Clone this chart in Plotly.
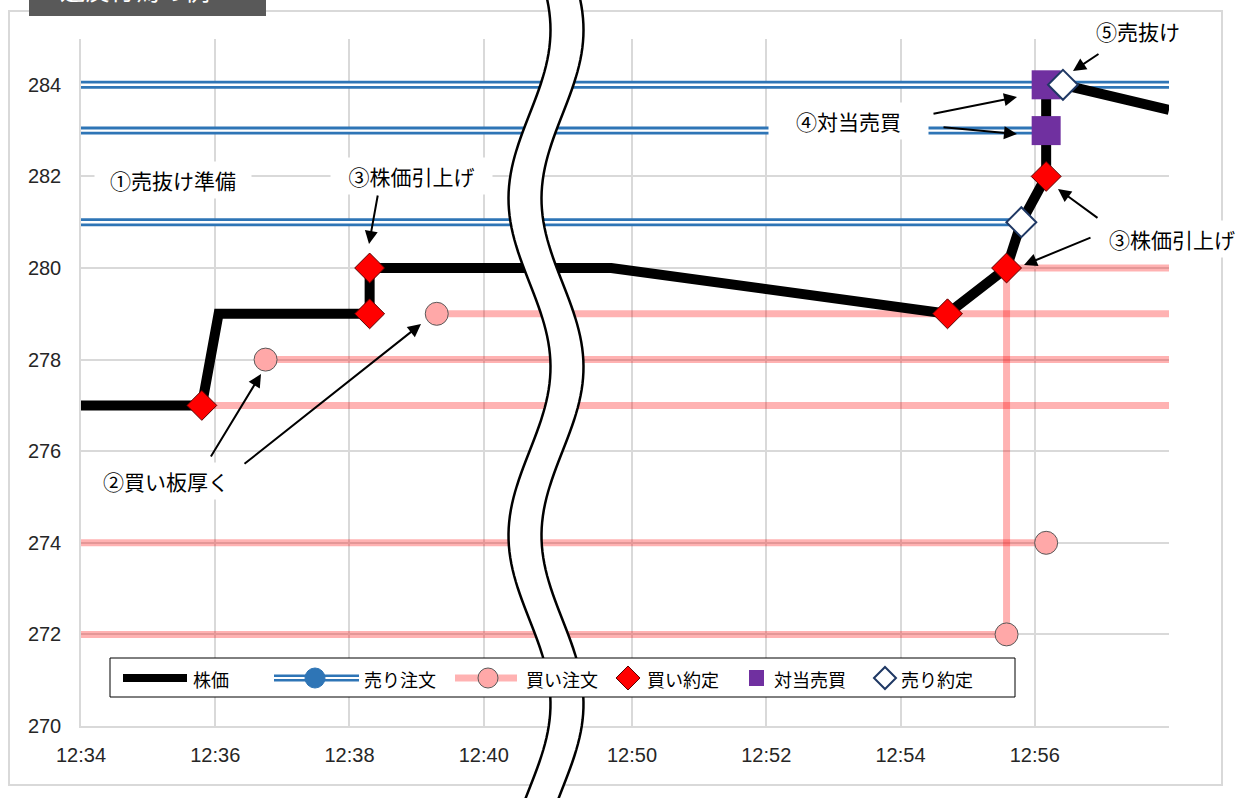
import numpy as np
import plotly.graph_objects as go

# ---------------- data (times = minutes past 12:00) ----------------
tick_minutes = [34, 36, 38, 40, 50, 52, 54, 56]
tick_labels = ["12:34", "12:36", "12:38", "12:40", "12:50", "12:52", "12:54", "12:56"]
y_ticks = [270, 272, 274, 276, 278, 280, 282, 284]

# 株価 (stock price path)
price_t = [34.0, 35.8, 36.05, 38.3, 38.3, 48.6, 54.7, 55.58, 55.8, 56.17, 56.17, 56.17, 56.42, 58.0]
price_y = [277, 277, 279, 279, 280, 280, 279, 280, 281, 282, 283, 284, 284, 283.45]

# 売り注文 (sell orders): price, start, end
sell_price = [284, 283, 281]
sell_start = [34.0, 34.0, 34.0]
sell_end = [58.0, 56.17, 55.8]

# 買い注文 (buy orders)
buy277_t, buy277_y = [34.0, 58.0], [277, 277]
buy278_t, buy278_y = [36.75, 58.0], [278, 278]
buy279_t, buy279_y = [39.3, 58.0], [279, 279]
buy274_t, buy274_y = [34.0, 56.17], [274, 274]
buy272_t, buy272_y = [34.0, 55.58, 55.58, 58.0], [272, 272, 280, 280]
buy_mark_t = [36.75, 39.3, 56.17, 55.58]
buy_mark_y = [278, 279, 274, 272]

# 買い約定 / 対当売買 / 売り約定
buyexec_t = [35.8, 38.3, 38.3, 54.7, 55.58, 56.17]
buyexec_y = [277, 279, 280, 279, 280, 282]
matched_t = [56.17, 56.17]
matched_y = [283, 284]
sellexec_t = [55.8, 56.42]
sellexec_y = [281, 284]

# ---------------- broken time axis ----------------
GAP = 2.209  # width (in minutes of normal scale) of the 12:40-12:50 break


def xpos(t):
    out = []
    for v in np.atleast_1d(t):
        if v <= 40:
            out.append(v - 34)
        elif v <= 50:
            out.append(6 + (v - 40) * GAP / 10.0)
        else:
            out.append(6 + GAP + (v - 50))
    return out


XMAX = xpos([58])[0]

# ---------------- layout geometry (pixels) ----------------
W, H = 1242, 798
ML, MR, MT, MB = 81, W - 1169, 39, H - 726
PW, PH = W - ML - MR, H - MT - MB


def PX(x):
    return (x - ML) / PW


def PY(y):
    return (H - MB - y) / PH


fig = go.Figure()

BLUE = "#2E75B6"
PINK = "rgba(255,0,0,0.30)"
PINKFILL = "#FFA8A8"

# sell orders (double blue lines)
for p, s, e in zip(sell_price, sell_start, sell_end):
    fig.add_trace(go.Scatter(x=xpos([s, e]), y=[p, p], mode="lines",
                             line=dict(color=BLUE, width=8), showlegend=False, hoverinfo="skip"))
    fig.add_trace(go.Scatter(x=xpos([s, e]), y=[p, p], mode="lines",
                             line=dict(color="white", width=2.4), showlegend=False, hoverinfo="skip"))

# buy orders (pink lines)
for tt, yy in [(buy277_t, buy277_y), (buy278_t, buy278_y), (buy279_t, buy279_y),
               (buy274_t, buy274_y), (buy272_t, buy272_y)]:
    fig.add_trace(go.Scatter(x=xpos(tt), y=yy, mode="lines",
                             line=dict(color=PINK, width=7), showlegend=False, hoverinfo="skip"))
fig.add_trace(go.Scatter(x=xpos(buy_mark_t), y=buy_mark_y, mode="markers",
                         marker=dict(symbol="circle", size=23, color=PINKFILL,
                                     line=dict(color="#595959", width=1)),
                         showlegend=False, name="買い注文"))

# stock price
fig.add_trace(go.Scatter(x=xpos(price_t), y=price_y, mode="lines",
                         line=dict(color="black", width=10), showlegend=False, name="株価"))

# executions
fig.add_trace(go.Scatter(x=xpos(buyexec_t), y=buyexec_y, mode="markers",
                         marker=dict(symbol="diamond", size=23, color="#FF0000",
                                     line=dict(color="#5a0000", width=1)),
                         showlegend=False, name="買い約定"))
fig.add_trace(go.Scatter(x=xpos(matched_t), y=matched_y, mode="markers",
                         marker=dict(symbol="square", size=29, color="#7030A0",
                                     line=dict(color="#7030A0", width=0)),
                         showlegend=False, name="対当売買"))
fig.add_trace(go.Scatter(x=xpos(sellexec_t), y=sellexec_y, mode="markers",
                         marker=dict(symbol="diamond", size=23, color="white",
                                     line=dict(color="#1F3864", width=2)),
                         showlegend=False, name="売り約定"))

shapes = []
# outer chart frame
shapes.append(dict(type="rect", xref="paper", yref="paper", layer="below",
                   x0=PX(9), x1=PX(1222), y0=PY(785), y1=PY(11),
                   line=dict(color="#D9D9D9", width=2), fillcolor="rgba(0,0,0,0)"))
# title box
shapes.append(dict(type="rect", xref="paper", yref="paper", layer="above",
                   x0=PX(29), x1=PX(266), y0=PY(16), y1=PY(-5),
                   line=dict(width=0), fillcolor="#595959"))

# wavy break band
ys = np.arange(-12, 812, 6)
cx = 546 + 21 * np.cos(2 * np.pi * (ys - 30) / 337.0)
hw = 16.5
left = [(PX(c - hw), PY(y)) for c, y in zip(cx, ys)]
right = [(PX(c + hw), PY(y)) for c, y in zip(cx[::-1], ys[::-1])]
pts = left + right
path = "M " + " L ".join(f"{a:.5f},{b:.5f}" for a, b in pts) + " Z"
shapes.append(dict(type="path", xref="paper", yref="paper", layer="above", path=path,
                   fillcolor="white", line=dict(color="black", width=2.5)))

# ---- custom legend (drawn above the break) ----
LY = 678
shapes.append(dict(type="rect", xref="paper", yref="paper", layer="above",
                   x0=PX(110), x1=PX(1015), y0=PY(697), y1=PY(658),
                   fillcolor="white", line=dict(color="black", width=1)))
shapes.append(dict(type="line", xref="paper", yref="paper", layer="above",
                   x0=PX(123), x1=PX(187), y0=PY(LY), y1=PY(LY), line=dict(color="black", width=8)))
shapes.append(dict(type="line", xref="paper", yref="paper", layer="above",
                   x0=PX(274), x1=PX(359), y0=PY(LY), y1=PY(LY), line=dict(color=BLUE, width=7)))
shapes.append(dict(type="line", xref="paper", yref="paper", layer="above",
                   x0=PX(274), x1=PX(359), y0=PY(LY), y1=PY(LY), line=dict(color="white", width=2)))
shapes.append(dict(type="circle", xref="paper", yref="paper", layer="above",
                   x0=PX(305), x1=PX(325), y0=PY(LY + 10), y1=PY(LY - 10),
                   fillcolor=BLUE, line=dict(color=BLUE, width=1)))
shapes.append(dict(type="line", xref="paper", yref="paper", layer="above",
                   x0=PX(455), x1=PX(517), y0=PY(LY), y1=PY(LY), line=dict(color=PINK, width=7)))
shapes.append(dict(type="circle", xref="paper", yref="paper", layer="above",
                   x0=PX(478), x1=PX(498), y0=PY(LY + 10), y1=PY(LY - 10),
                   fillcolor=PINKFILL, line=dict(color="#595959", width=1)))


def diamond_path(cxp, cyp, r):
    p = [(cxp - r, cyp), (cxp, cyp - r), (cxp + r, cyp), (cxp, cyp + r)]
    return "M " + " L ".join(f"{PX(a):.5f},{PY(b):.5f}" for a, b in p) + " Z"


shapes.append(dict(type="path", xref="paper", yref="paper", layer="above",
                   path=diamond_path(628, LY, 12), fillcolor="#FF0000",
                   line=dict(color="#5a0000", width=1)))
shapes.append(dict(type="rect", xref="paper", yref="paper", layer="above",
                   x0=PX(749), x1=PX(764), y0=PY(LY + 8), y1=PY(LY - 8),
                   fillcolor="#7030A0", line=dict(width=0)))
shapes.append(dict(type="path", xref="paper", yref="paper", layer="above",
                   path=diamond_path(885, LY, 11), fillcolor="white",
                   line=dict(color="#1F3864", width=2)))

JP = "Noto Sans CJK JP"
annotations = []
legend_texts = [("株価", 191), ("売り注文", 362), ("買い注文", 524),
                ("買い約定", 645), ("対当売買", 772), ("売り約定", 899)]
for txt, xl in legend_texts:
    annotations.append(dict(text=txt, xref="paper", yref="paper", x=PX(xl), y=PY(LY + 1),
                            xanchor="left", yanchor="middle", showarrow=False,
                            font=dict(family=JP, size=18, color="black")))

# title (mostly cut off by the page top, as in the original)
annotations.append(dict(text="違反行為の例", xref="paper", yref="paper", x=PX(58), y=PY(9),
                        xanchor="left", yanchor="bottom", showarrow=False,
                        font=dict(family=JP, size=25, color="white")))

# labels with white boxes
labels = [
    ("①売抜け準備", 173, 180, 150),
    ("③株価引上げ", 411, 176, 155),
    ("②買い板厚く", 166, 481, 130),
    ("④対当売買", 848, 121, 153),
    ("⑤売抜け", 1138, 31, 92),
    ("③株価引上げ", 1172, 239, 136),
]
for txt, xc, yc, wbox in labels:
    annotations.append(dict(text=txt, xref="paper", yref="paper", x=PX(xc), y=PY(yc),
                            xanchor="center", yanchor="middle", showarrow=False,
                            width=wbox, bgcolor="white", borderpad=3,
                            font=dict(family=JP, size=21, color="black")))

# arrows (tail px -> head px)
arrows = [
    ((378, 194), (369, 244)),
    ((210, 458), (261, 374)),
    ((243, 465), (421, 324)),
    ((932, 114), (1017, 97)),
    ((942, 127), (1017, 134)),
    ((1100, 53), (1073, 71)),
    ((1099, 219), (1058, 189)),
    ((1092, 237), (1024, 265)),
]
for (tx, ty), (hx, hy) in arrows:
    annotations.append(dict(text="", xref="x domain", yref="y domain",
                            axref="x domain", ayref="y domain",
                            x=PX(hx), y=PY(hy), ax=PX(tx), ay=PY(ty),
                            showarrow=True, arrowhead=2, arrowsize=1.3, arrowwidth=2,
                            arrowcolor="black"))

fig.update_layout(
    width=W, height=H,
    margin=dict(l=ML, r=MR, t=MT, b=MB, pad=0),
    paper_bgcolor="white", plot_bgcolor="white",
    showlegend=False,
    shapes=shapes, annotations=annotations,
    font=dict(family=JP),
    xaxis=dict(range=[0, XMAX], tickvals=xpos(tick_minutes), ticktext=tick_labels,
               showgrid=True, gridcolor="#D9D9D9", gridwidth=1.5, zeroline=False,
               showline=True, linecolor="#D9D9D9", linewidth=1.5, ticks="",
               ticklabelstandoff=10,
               tickfont=dict(family="Liberation Sans", size=20, color="#262626")),
    yaxis=dict(range=[270, 285], tickvals=y_ticks,
               showgrid=True, gridcolor="#D9D9D9", gridwidth=1.5, zeroline=False,
               showline=True, linecolor="#D9D9D9", linewidth=1.5, ticks="",
               ticklabelstandoff=14,
               tickfont=dict(family="Liberation Sans", size=20, color="#262626")),
)

fig.write_html("out.html", config={"displayModeBar": False},
               post_script="document.body.style.margin='0';document.body.style.overflow='hidden';")
